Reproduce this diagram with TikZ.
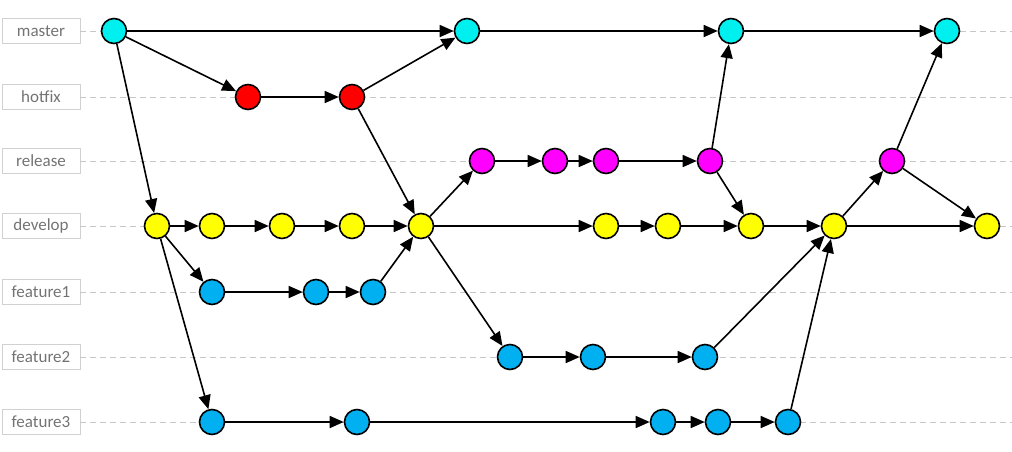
\documentclass[tikz,border=0pt]{standalone}
\usepackage{fontspec}
\setmainfont{Carlito}
\usetikzlibrary{arrows.meta}
\definecolor{mastercol}{RGB}{0,240,240}
\definecolor{hotfixcol}{RGB}{255,0,0}
\definecolor{releasecol}{RGB}{255,0,255}
\definecolor{developcol}{RGB}{255,255,0}
\definecolor{featurecol}{RGB}{0,176,240}
\begin{document}
\begin{tikzpicture}[x=1pt, y=-1pt, >={Triangle[length=14pt,width=12pt]},
  commit/.style={circle, draw, line width=1.6pt, minimum size=25pt, inner sep=0pt},
  branch/.style={draw=black!18, text=black!55, minimum width=78pt, minimum height=25pt,
    inner sep=0pt, font=\fontsize{17}{19}\selectfont},
  guide/.style={black!22, dashed, dash pattern=on 6pt off 4pt, line width=0.8pt},
  edge/.style={->, line width=1.6pt}]
  \useasboundingbox (0,0) rectangle (1012,451);
  % Zweig-Beschriftungen und Hilfslinien
  \foreach \name/\y in {master/31, hotfix/97, release/161, develop/226,
                        feature1/292, feature2/357, feature3/422} {
    \node[branch] (\name) at (41,\y) {\name};
    \coordinate (\name-end) at (1012,\y);
    \draw[guide] (\name.east) -- (\name-end);
  }
  % master
  \node[commit, fill=mastercol] (m1) at (114,31) {};
  \node[commit, fill=mastercol] (m2) at (467,31) {};
  \node[commit, fill=mastercol] (m3) at (731,31) {};
  \node[commit, fill=mastercol] (m4) at (947,31) {};
  % hotfix
  \node[commit, fill=hotfixcol] (h1) at (248,97) {};
  \node[commit, fill=hotfixcol] (h2) at (352,97) {};
  % release
  \node[commit, fill=releasecol] (r1) at (482,161) {};
  \node[commit, fill=releasecol] (r2) at (555,161) {};
  \node[commit, fill=releasecol] (r3) at (606,161) {};
  \node[commit, fill=releasecol] (r4) at (710,161) {};
  \node[commit, fill=releasecol] (r5) at (892,161) {};
  % develop
  \node[commit, fill=developcol] (d1) at (157,226) {};
  \node[commit, fill=developcol] (d2) at (212,226) {};
  \node[commit, fill=developcol] (d3) at (282,226) {};
  \node[commit, fill=developcol] (d4) at (352,226) {};
  \node[commit, fill=developcol] (d5) at (421,226) {};
  \node[commit, fill=developcol] (d6) at (606,226) {};
  \node[commit, fill=developcol] (d7) at (668,226) {};
  \node[commit, fill=developcol] (d8) at (751,226) {};
  \node[commit, fill=developcol] (d9) at (834,226) {};
  \node[commit, fill=developcol] (d10) at (987,226) {};
  % feature1
  \node[commit, fill=featurecol] (fa1) at (212,292) {};
  \node[commit, fill=featurecol] (fa2) at (316,292) {};
  \node[commit, fill=featurecol] (fa3) at (373,292) {};
  % feature2
  \node[commit, fill=featurecol] (fb1) at (510,357) {};
  \node[commit, fill=featurecol] (fb2) at (593,357) {};
  \node[commit, fill=featurecol] (fb3) at (705,357) {};
  % feature3
  \node[commit, fill=featurecol] (fc1) at (212,422) {};
  \node[commit, fill=featurecol] (fc2) at (357,422) {};
  \node[commit, fill=featurecol] (fc3) at (663,422) {};
  \node[commit, fill=featurecol] (fc4) at (718,422) {};
  \node[commit, fill=featurecol] (fc5) at (788,422) {};
  % Verbindungen
  \foreach \a/\b in {m1/m2, m2/m3, m3/m4, m1/h1, m1/d1, h1/h2, h2/m2, h2/d5,
                     d1/d2, d2/d3, d3/d4, d4/d5, d1/fa1, d1/fc1,
                     fa1/fa2, fa2/fa3, fa3/d5, d5/r1, d5/d6, d5/fb1,
                     r1/r2, r2/r3, r3/r4, r4/m3, r4/d8, d6/d7, d7/d8, d8/d9,
                     fb1/fb2, fb2/fb3, fb3/d9, fc1/fc2, fc2/fc3, fc3/fc4, fc4/fc5,
                     fc5/d9, d9/r5, d9/d10, r5/m4, r5/d10}
    \draw[edge] (\a) -- (\b);
\end{tikzpicture}
\end{document}
